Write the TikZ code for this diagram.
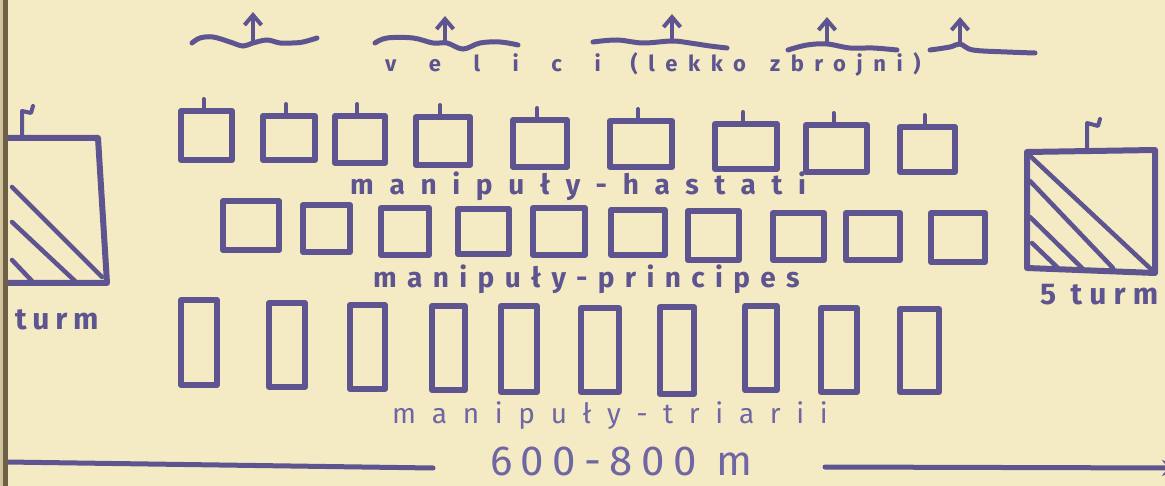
\documentclass[tikz,border=0pt]{standalone}
\usepackage{fontspec}
\setmainfont{Fira Sans}
\usetikzlibrary{arrows.meta}
\definecolor{paper}{HTML}{F4EBC4}
\definecolor{ink}{HTML}{5E5490}
\definecolor{inklight}{HTML}{6F66A3}
\definecolor{binding}{HTML}{6F6045}
\definecolor{bindlight}{HTML}{CFC39C}
% name, x1, y1, x2, y2 (outer extents in px)
\newcommand\manbox[5]{\node[unit, minimum width={#4-#2-6}, minimum height={#5-#3-6}] (#1) at ({(#2+#4)/2},{(#3+#5)/2}) {};}
\begin{document}
\begin{tikzpicture}[x=1pt,y=-1pt,
  unit/.style={draw=ink, line width=6pt, inner sep=0pt, line join=round},
  tickmark/.style={draw=ink, line width=4pt, line cap=round, line join=round},
  wave/.style={draw=ink, line width=5pt, line cap=round},
  velarrow/.style={draw=ink, line width=4pt, line cap=round, -{Straight Barb[length=10pt,width=17pt]}},
  hatch/.style={draw=ink, line width=4.5pt, line cap=round},
  cav/.style={draw=ink, line width=6pt, line join=round, line cap=round},
  lbl/.style={text=ink, inner sep=0pt, anchor=base west},
  measure/.style={draw=ink, line width=5pt, line cap=round}]
\useasboundingbox (0,0) rectangle (1165,486);
\fill[paper] (0,0) rectangle (1165,486);
\clip (0,0) rectangle (1165,486);

% velites: waves with arrows
\draw[wave] plot[smooth, tension=0.6] coordinates {(192,43) (200,38) (213,37) (230,42) (243,46) (253,43) (267,40) (280,43) (292,43) (303,42) (317,38)};
\draw[wave] plot[smooth, tension=0.6] coordinates {(375,43) (387,38) (413,38) (433,43) (447,43) (463,49) (480,43) (500,42) (518,45)};
\draw[wave] plot[smooth, tension=0.6] coordinates {(593,42) (617,40) (643,43) (672,41) (690,43) (710,46) (727,48)};
\draw[wave] plot[smooth, tension=0.6] coordinates {(788,50) (807,45) (827,44) (850,48) (873,48) (897,50)};
\draw[wave] plot[smooth, tension=0.6] coordinates {(930,50) (950,47) (960,44) (973,50) (1007,52) (1035,53)};
\coordinate (a1b) at (253,43); \coordinate (a1t) at (253,12);
\coordinate (a2b) at (445,43); \coordinate (a2t) at (445,16);
\coordinate (a3b) at (672,41); \coordinate (a3t) at (672,14);
\coordinate (a4b) at (827,44); \coordinate (a4t) at (827,17);
\coordinate (a5b) at (960,44); \coordinate (a5t) at (960,17);
\draw[velarrow] (a1b) -- (a1t);
\draw[velarrow] (a2b) -- (a2t);
\draw[velarrow] (a3b) -- (a3t);
\draw[velarrow] (a4b) -- (a4t);
\draw[velarrow] (a5b) -- (a5t);
\node[lbl, font=\fontsize{22}{26}\selectfont\bfseries] (velites) at (385,72) {{\addfontfeature{LetterSpace=148}velici}\hspace{30pt}{\addfontfeature{LetterSpace=48}(lekko}\hspace{24pt}{\addfontfeature{LetterSpace=48}zbrojni)}};

% hastati
\manbox{H1}{178}{108}{235}{163}
\manbox{H2}{260}{113}{318}{163}
\manbox{H3}{332}{113}{388}{166}
\manbox{H4}{413}{114}{473}{168}
\manbox{H5}{510}{117}{570}{170}
\manbox{H6}{607}{118}{675}{170}
\manbox{H7}{712}{121}{780}{172}
\manbox{H8}{803}{122}{870}{175}
\manbox{H9}{897}{124}{958}{175}
\foreach \b in {H1,H2,H3,H4,H5,H6,H7,H8,H9}
  \draw[tickmark] ([xshift=-3pt]\b.north) -- ++(0,-9);
\node[lbl, font=\fontsize{28}{32}\selectfont\bfseries\addfontfeature{LetterSpace=56}] (hastati) at (350,195) {manipuły-hastati};

% principes
\manbox{P1}{220}{198}{282}{253}
\manbox{P2}{300}{202}{353}{255}
\manbox{P3}{378}{205}{432}{258}
\manbox{P4}{455}{206}{512}{257}
\manbox{P5}{530}{205}{588}{258}
\manbox{P6}{608}{207}{668}{258}
\manbox{P7}{685}{208}{742}{263}
\manbox{P8}{770}{210}{827}{263}
\manbox{P9}{843}{210}{903}{263}
\manbox{P10}{928}{210}{988}{265}
\node[lbl, font=\fontsize{28}{32}\selectfont\bfseries\addfontfeature{LetterSpace=37}] (principes) at (373,288) {manipuły-principes};

% triarii
\manbox{T1}{178}{297}{220}{388}
\manbox{T2}{266}{300}{308}{390}
\manbox{T3}{347}{302}{388}{392}
\manbox{T4}{429}{303}{468}{393}
\manbox{T5}{498}{303}{540}{395}
\manbox{T6}{578}{305}{622}{395}
\manbox{T7}{657}{304}{697}{397}
\manbox{T8}{742}{303}{780}{393}
\manbox{T9}{818}{305}{860}{395}
\manbox{T10}{897}{306}{942}{395}
\node[lbl, text=inklight, font=\fontsize{28}{32}\selectfont\addfontfeature{LetterSpace=56}] (triarii) at (392,423) {manipuły-triarii};

% cavalry left
\draw[cav] (2,138) -- (98,138) -- (107,283) -- (2,283);
\draw[hatch] (12,187) -- (102,277);
\draw[hatch] (12,222) -- (75,281);
\draw[hatch] (12,260) -- (32,281);
\draw[tickmark] (22,138) -- (22,111) -- (31,113) -- (33,106);
\node[lbl, font=\fontsize{30}{34}\selectfont\bfseries\addfontfeature{LetterSpace=19}] (turmL) at (15,330) {turm};

% cavalry right
\draw[cav] (1027,152) -- (1155,150) -- (1155,273) -- (1027,268) -- cycle;
\draw[hatch] (1029,155) -- (1153,271);
\draw[hatch] (1030,181) -- (1113,268);
\draw[hatch] (1030,217) -- (1082,268);
\draw[hatch] (1032,243) -- (1058,268);
\draw[tickmark] (1087,151) -- (1087,123) -- (1098,126) -- (1100,119);
\node[lbl, font=\fontsize{30}{34}\selectfont\bfseries\addfontfeature{LetterSpace=24}] (turmR) at (1040,305) {5 turm};

% front width
\coordinate (ml1) at (6,462); \coordinate (ml2) at (433,468);
\coordinate (mr1) at (825,467); \coordinate (mr2) at (1180,468);
\draw[measure] (ml1) -- (ml2);
\draw[measure, -{Stealth[length=18pt,width=16pt]}] (mr1) -- (mr2);
\node[lbl, text=inklight, font=\fontsize{42}{46}\selectfont\addfontfeature{LetterSpace=20}] (dist) at (490,475) {600-800 m};

% book binding at the left edge
\fill[bindlight] (0,0) rectangle (3,486);
\fill[binding] (3,0) rectangle (8,486);
\end{tikzpicture}
\end{document}
